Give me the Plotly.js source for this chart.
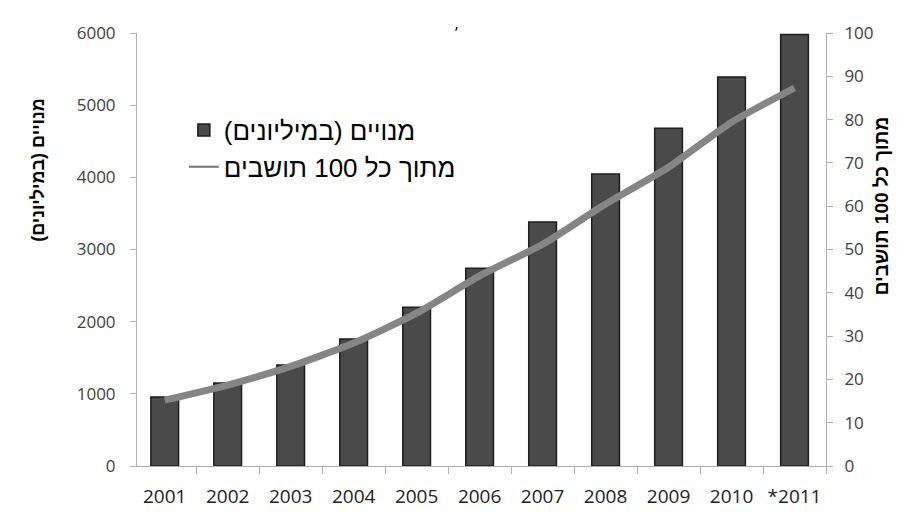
<!DOCTYPE html>
<html>
<head>
<meta charset="utf-8">
<script src="https://cdn.plot.ly/plotly-3.0.1.min.js"></script>
<style>html,body{margin:0;padding:0;background:#fff;}#chart{width:904px;height:515px;}</style>
</head>
<body>
<div id="chart"></div>
<script>
const years = ["2001","2002","2003","2004","2005","2006","2007","2008","2009","2010","*2011"];
const subscribers = [955, 1150, 1400, 1760, 2200, 2740, 3380, 4045, 4680, 5390, 5980];
const per100 = [15.2, 18.7, 23.0, 28.4, 35.3, 43.9, 51.2, 60.5, 69.0, 79.4, 87.3];
const barName = "מנויים (במיליונים)";
const lineName = "מתוך כל 100 תושבים";

const tickFont = {family: "Open Sans, DejaVu Sans, sans-serif", size: 17, color: "#404040"};

const data = [
  {
    type: "bar", x: years, y: subscribers, name: barName,
    width: 0.44,
    marker: {color: "#4a4a4a", line: {color: "#1e1e1e", width: 1.5}},
    hoverinfo: "skip"
  },
  {
    type: "scatter", mode: "lines", x: years, y: per100, name: lineName, yaxis: "y2",
    line: {color: "#858585", width: 7, shape: "spline", smoothing: 0.6},
    showlegend: false,
    hoverinfo: "skip"
  },
  {
    type: "scatter", mode: "lines", x: [null], y: [null], name: lineName, yaxis: "y2",
    line: {color: "#777", width: 2},
    hoverinfo: "skip"
  }
];

const layout = {
  width: 904, height: 515,
  margin: {l: 137, r: 78, t: 33, b: 49},
  paper_bgcolor: "#fff", plot_bgcolor: "#fff",
  showlegend: true,
  legend: {
    x: 0.068, y: 0.83, xanchor: "left", yanchor: "top",
    font: {family: "Liberation Sans, Arial, sans-serif", size: 26, color: "#000"},
    bgcolor: "rgba(0,0,0,0)", traceorder: "normal", tracegroupgap: 20,
    itemwidth: 30
  },
  xaxis: {
    type: "category", range: [-0.44, 10.5],
    showgrid: false, zeroline: false,
    showline: true, linecolor: "#b0b0b0", linewidth: 1,
    ticks: "outside", tickson: "boundaries", ticklen: 7, tickcolor: "#b0b0b0",
    tickfont: {family: "Open Sans, DejaVu Sans, sans-serif", size: 19, color: "#222"},
    ticklabelstandoff: 13,
    fixedrange: true
  },
  yaxis: {
    range: [0, 6000], dtick: 1000,
    showgrid: false, zeroline: false,
    showline: true, linecolor: "#b0b0b0", linewidth: 1,
    ticks: "outside", ticklen: 6, tickcolor: "#b0b0b0",
    tickfont: tickFont, ticklabelstandoff: 11,
    fixedrange: true
  },
  yaxis2: {
    overlaying: "y", side: "right",
    range: [0, 100], dtick: 10,
    showgrid: false, zeroline: false,
    showline: true, linecolor: "#b0b0b0", linewidth: 1,
    ticks: "outside", ticklen: 6, tickcolor: "#b0b0b0",
    tickfont: tickFont, ticklabelstandoff: 8,
    fixedrange: true
  },
  annotations: [
    {xref: "paper", yref: "paper", x: 0.464, y: 1.03, text: "ʼ", showarrow: false,
     font: {size: 16, color: "#000"}},
    {xref: "paper", yref: "paper", x: -0.143, y: 0.685, xanchor: "center", yanchor: "middle",
     text: "<b>" + barName + "</b>", textangle: -90, showarrow: false,
     font: {family: "Liberation Sans, Arial, sans-serif", size: 18, color: "#000"}},
    {xref: "paper", yref: "paper", x: 1.08, y: 0.6, xanchor: "center", yanchor: "middle",
     text: "<b>" + lineName + "</b>", textangle: -90, showarrow: false,
     font: {family: "Liberation Sans, Arial, sans-serif", size: 19, color: "#000"}}
  ]
};

Plotly.newPlot("chart", data, layout, {displayModeBar: false, staticPlot: true});
</script>
</body>
</html>
